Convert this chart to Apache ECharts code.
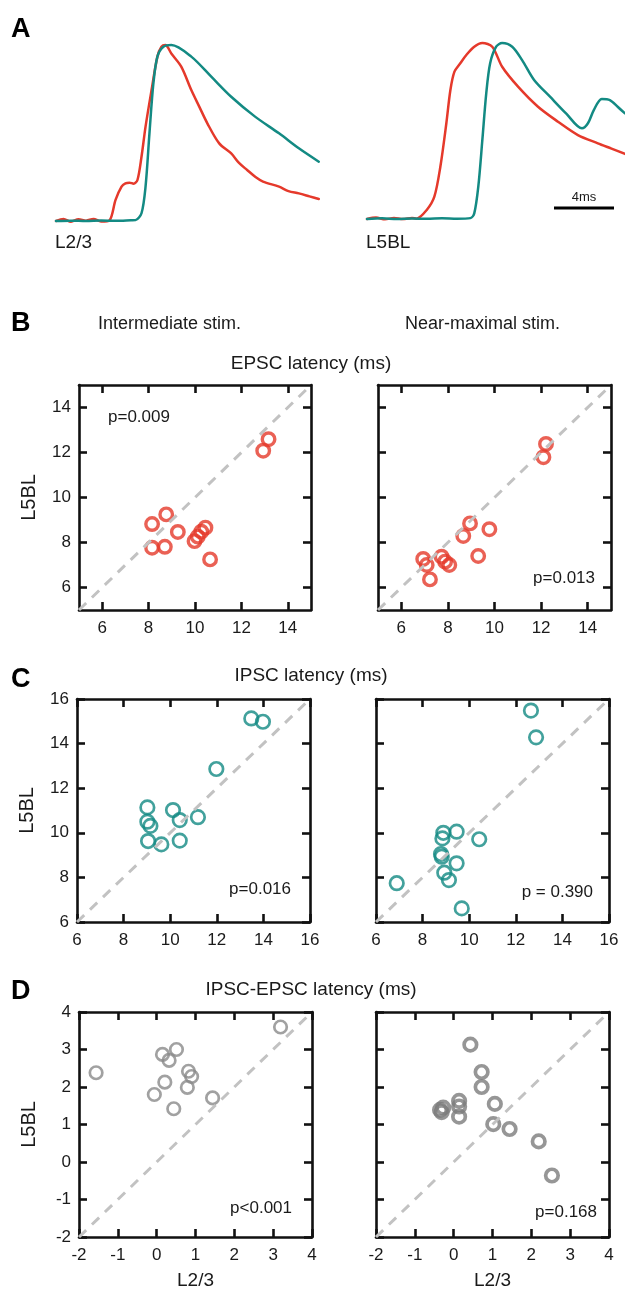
<!DOCTYPE html>
<html><head><meta charset="utf-8">
<script src="https://cdn.jsdelivr.net/npm/echarts@6/dist/echarts.min.js"></script>
<style>html,body{margin:0;padding:0;background:#fff}#c{width:625px;height:1297px}</style>
</head><body><div id="c"></div>
<script>
// ---------- Panel A traces: [time (ms), normalised amplitude] ----------
const l23Red = [[0,0],[0.5,0.012],[1,-0.004],[1.5,0.01],[2,0.002],[2.5,0.012],[3,-0.003],[3.57,0.004],[3.97,0.12],[4.37,0.195],[4.63,0.214],[4.9,0.218],[5.17,0.212],[5.43,0.233],[5.7,0.365],[5.97,0.536],[6.37,0.744],[6.76,0.934],[7.03,0.99],[7.29,1.0],[7.7,0.95],[8.35,0.877],[9.02,0.744],[9.55,0.65],[10.09,0.555],[10.88,0.441],[11.68,0.384],[12.2,0.33],[12.74,0.29],[13.3,0.25],[13.8,0.224],[14.87,0.195],[15.5,0.17],[16.19,0.157],[16.9,0.14],[17.52,0.125]];
const l23Teal = [[0,0],[1,0.002],[2,0],[3,0.003],[4,0.001],[5,0.004],[5.3,0.005],[5.7,0.044],[5.97,0.195],[6.23,0.498],[6.49,0.78],[6.76,0.934],[7.16,0.99],[7.69,1.0],[9.02,0.934],[10.35,0.82],[11.68,0.706],[13.27,0.593],[14.87,0.498],[16.19,0.413],[17.52,0.337]];
const l5Red = [[0,0],[0.6,0.008],[1.2,-0.002],[1.8,0.006],[2.4,0.0],[3.0,0.006],[3.3,0.002],[3.97,0.05],[4.49,0.127],[4.89,0.297],[5.29,0.544],[5.56,0.733],[5.83,0.837],[6.22,0.885],[6.62,0.932],[7.15,0.979],[7.69,1.0],[8.35,0.979],[9.01,0.865],[10.07,0.752],[11.4,0.638],[12.73,0.553],[14.06,0.477],[15.39,0.43],[16.3,0.4],[17.2,0.37]];
const l5Teal = [[0,0],[1,0.004],[2,0.0],[3,0.003],[4,0.001],[5,0.004],[6,0.002],[6.89,0.005],[7.15,0.032],[7.42,0.184],[7.69,0.449],[7.95,0.714],[8.21,0.885],[8.61,0.979],[9.01,1.0],[9.68,0.979],[10.34,0.903],[11.14,0.79],[12.2,0.695],[13.27,0.6],[14.33,0.515],[14.73,0.544],[15.12,0.619],[15.65,0.682],[16.19,0.676],[16.71,0.638],[17.2,0.6]];

// ---------- Panel B: EPSC latency (ms), [L2/3, L5BL] ----------
const epscInter = [[8.15,8.82],[8.76,9.25],[8.15,7.77],[8.7,7.81],[9.26,8.47],[9.98,8.06],[10.12,8.26],[10.27,8.48],[10.45,8.66],[10.65,7.25],[12.94,12.08],[13.17,12.59]];
const epscNear = [[12.21,12.38],[12.1,11.79],[8.95,8.85],[8.66,8.29],[9.78,8.59],[9.3,7.4],[6.94,7.27],[7.73,7.37],[7.88,7.15],[8.06,7.0],[7.09,7.0],[7.23,6.36]];
// ---------- Panel C: IPSC latency (ms) ----------
const ipscInter = [[13.48,15.13],[13.98,14.98],[11.98,12.86],[9.02,11.14],[9.02,10.5],[9.15,10.31],[9.05,9.63],[9.62,9.48],[10.12,11.02],[10.41,10.57],[10.41,9.65],[11.19,10.7]];
const ipscNear = [[12.65,15.48],[12.87,14.28],[8.89,10.0],[8.85,9.75],[9.46,10.05],[10.43,9.71],[8.79,9.05],[8.82,8.93],[9.46,8.63],[8.93,8.21],[9.13,7.88],[6.89,7.74],[9.68,6.61]];
// ---------- Panel D: IPSC-EPSC latency (ms) ----------
const diffInter = [[-1.56,2.38],[3.19,3.6],[0.15,2.87],[0.51,3.0],[0.32,2.71],[0.21,2.13],[-0.06,1.8],[0.44,1.42],[0.82,2.42],[0.9,2.28],[0.79,1.99],[1.44,1.71]];
const diffNear = [[0.43,3.13],[0.72,2.4],[0.72,2.0],[1.06,1.55],[1.02,1.01],[1.44,0.88],[2.19,0.55],[2.53,-0.36],[-0.35,1.39],[-0.27,1.45],[-0.31,1.33],[0.14,1.63],[0.14,1.48],[0.14,1.21]];

// ---------- tick labels / ranges ----------
const ticksB = [6,8,10,12,14];
const ticksC = [6,8,10,12,14,16];
const ticksD = [-2,-1,0,1,2,3,4];
const rangeB = [5,15], rangeC = [6,16], rangeD = [-2,4];
const pTexts = ['p=0.009','p=0.013','p=0.016','p = 0.390','p<0.001','p=0.168'];

const FONT = '"Liberation Sans", Arial, Helvetica, sans-serif';
const RED = '#e5392b', TEAL = '#138a83', GRAY = '#8a8a8a', GRAY2 = '#7c7c7c', DIAG = '#c2c2c2', INK = '#111';

const grids = [], xAxes = [], yAxes = [], series = [];

function addTraces(box, xmax, traces) {
  const gi = grids.length;
  grids.push({left: box.l, top: box.t, width: box.w, height: box.h});
  xAxes.push({type: 'value', gridIndex: gi, min: 0, max: xmax, show: false});
  yAxes.push({type: 'value', gridIndex: gi, min: -0.1, max: 1.1, show: false});
  const xi = xAxes.length - 1, yi = yAxes.length - 1;
  traces.forEach(([data, color]) => series.push({
    type: 'line', xAxisIndex: xi, yAxisIndex: yi, data, symbol: 'none',
    smooth: 0.3, lineStyle: {color, width: 2.5, join: 'round', cap: 'round'}, silent: true, animation: false
  }));
}

function addScatter(box, range, ticks, pts, mk, o) {
  const gi = grids.length;
  grids.push({left: box.l, top: box.t, width: box.w, height: box.h});
  const line = {show: true, onZero: false, lineStyle: {color: INK, width: 2.6}};
  const tick = {show: true, inside: true, length: 8, lineStyle: {color: INK, width: 2.6}, customValues: ticks};
  const lbl = {show: true, fontSize: 17, color: '#1a1a1a', fontFamily: FONT, customValues: ticks};
  const base = {type: 'value', gridIndex: gi, min: range[0], max: range[1], splitLine: {show: false}, axisLine: line, axisTick: tick};
  xAxes.push(Object.assign({}, base, {position: 'bottom',
    axisLabel: Object.assign({}, lbl, {margin: 10}),
    name: o.xname || '', nameLocation: 'middle', nameGap: 34,
    nameTextStyle: {fontSize: 19, color: '#1a1a1a', fontFamily: FONT}}));
  const xb = xAxes.length - 1;
  xAxes.push(Object.assign({}, base, {position: 'top', axisLabel: {show: false}}));
  yAxes.push(Object.assign({}, base, {position: 'left',
    axisLabel: o.ylabels ? Object.assign({}, lbl, {margin: 8}) : {show: false},
    name: o.ylabels ? 'L5BL' : '', nameLocation: 'middle', nameGap: 40,
    nameTextStyle: {fontSize: 20, color: '#1a1a1a', fontFamily: FONT}}));
  const yl = yAxes.length - 1;
  yAxes.push(Object.assign({}, base, {position: 'right', axisLabel: {show: false}}));
  series.push({type: 'line', xAxisIndex: xb, yAxisIndex: yl, data: [[range[0], range[0]], [range[1], range[1]]],
    symbol: 'none', clip: true, silent: true, animation: false,
    lineStyle: {color: DIAG, width: 3, type: [10, 8]}});
  series.push({type: 'scatter', xAxisIndex: xb, yAxisIndex: yl, data: pts, symbol: 'circle',
    symbolSize: mk.size, silent: true, animation: false,
    itemStyle: {color: 'rgba(0,0,0,0)', borderColor: mk.color, borderWidth: mk.bw}});
}

// Panel A
addTraces({l: 56, t: 27.4, w: 264, h: 211.2}, 17.6, [[l23Red, RED], [l23Teal, TEAL]]);
addTraces({l: 367, t: 25.4, w: 258, h: 211.2}, 17.2, [[l5Red, RED], [l5Teal, TEAL]]);
// Panel B
addScatter({l: 79, t: 385, w: 232, h: 225}, rangeB, ticksB, epscInter, {size: 12.5, color: RED, bw: 3.4}, {ylabels: true});
addScatter({l: 378, t: 385, w: 233, h: 225}, rangeB, ticksB, epscNear, {size: 12.5, color: RED, bw: 3.4}, {ylabels: false});
// Panel C
addScatter({l: 77, t: 699, w: 233, h: 223}, rangeC, ticksC, ipscInter, {size: 13.5, color: TEAL, bw: 2.7}, {ylabels: true});
addScatter({l: 376, t: 699, w: 233, h: 223}, rangeC, ticksC, ipscNear, {size: 13.5, color: TEAL, bw: 2.7}, {ylabels: false});
// Panel D
addScatter({l: 79, t: 1012, w: 233, h: 225}, rangeD, ticksD, diffInter, {size: 12.5, color: GRAY, bw: 2.7}, {ylabels: true, xname: 'L2/3'});
addScatter({l: 376, t: 1012, w: 233, h: 225}, rangeD, ticksD, diffNear, {size: 12.5, color: GRAY2, bw: 3.7}, {ylabels: false, xname: 'L2/3'});

function txt(x, y, text, size, opts) {
  opts = opts || {};
  return {type: 'text', x, y, silent: true, style: {text, fill: opts.fill || '#1a1a1a',
    font: (opts.bold ? 'bold ' : '') + size + 'px ' + FONT,
    align: opts.align || 'left', verticalAlign: 'middle'}};
}

const graphic = [
  txt(11, 30, 'A', 27, {bold: true, fill: '#000'}),
  txt(55, 243, 'L2/3', 19),
  txt(366, 243, 'L5BL', 19),
  txt(584, 197, '4ms', 13, {align: 'center'}),
  {type: 'line', silent: true, shape: {x1: 554, y1: 208, x2: 614, y2: 208}, style: {stroke: '#000', lineWidth: 3}},
  txt(11, 324, 'B', 27, {bold: true, fill: '#000'}),
  txt(98, 324, 'Intermediate stim.', 18),
  txt(405, 324, 'Near-maximal stim.', 18),
  txt(311, 364, 'EPSC latency (ms)', 19, {align: 'center'}),
  txt(11, 680, 'C', 27, {bold: true, fill: '#000'}),
  txt(311, 676, 'IPSC latency (ms)', 19, {align: 'center'}),
  txt(11, 992, 'D', 27, {bold: true, fill: '#000'}),
  txt(311, 990, 'IPSC-EPSC latency (ms)', 19, {align: 'center'}),
  txt(108, 417, pTexts[0], 17),
  txt(595, 578, pTexts[1], 17, {align: 'right'}),
  txt(291, 889, pTexts[2], 17, {align: 'right'}),
  txt(593, 892, pTexts[3], 17, {align: 'right'}),
  txt(292, 1208, pTexts[4], 17, {align: 'right'}),
  txt(597, 1212, pTexts[5], 17, {align: 'right'})
];

const chart = echarts.init(document.getElementById('c'), null, {renderer: 'canvas'});
chart.setOption({
  animation: false,
  backgroundColor: '#fff',
  grid: grids, xAxis: xAxes, yAxis: yAxes, series, graphic
});
</script></body></html>
